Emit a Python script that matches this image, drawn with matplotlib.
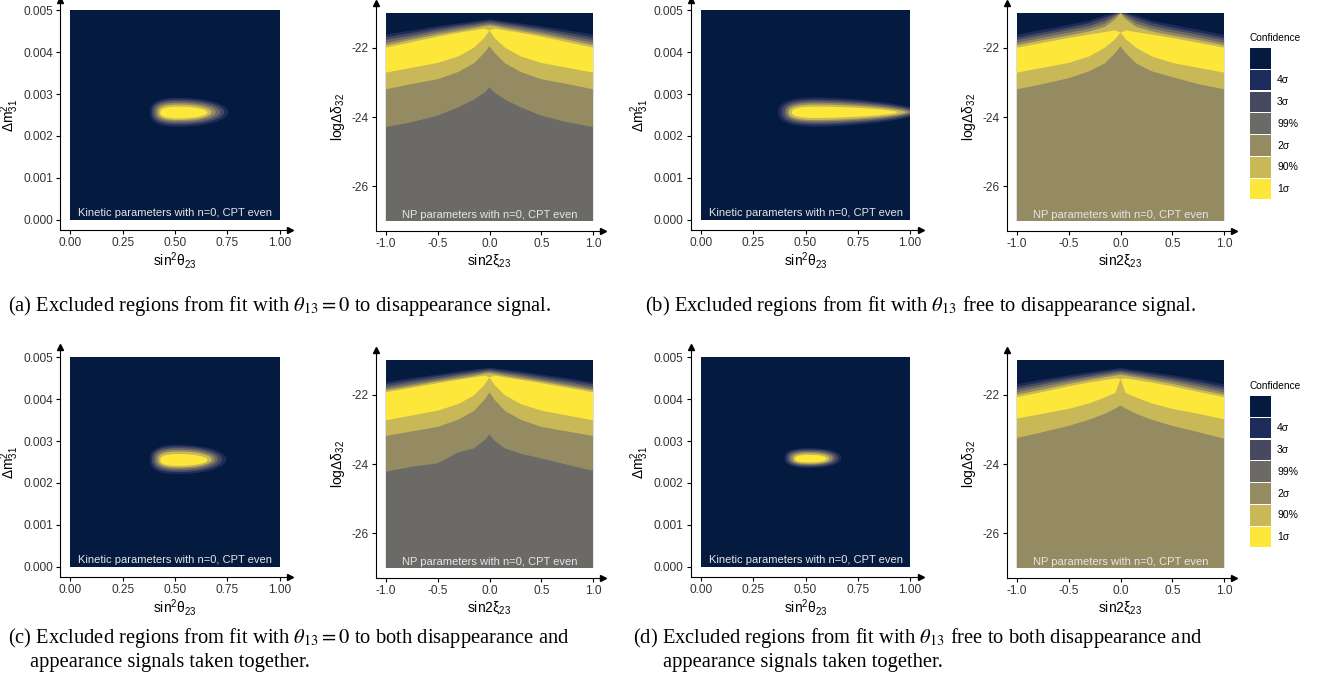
import matplotlib
matplotlib.use("Agg")
import matplotlib.pyplot as plt
import numpy as np
from matplotlib.patches import Polygon, Rectangle

W, H = 1332, 682

plt.rcParams["font.family"] = ["Liberation Sans", "DejaVu Sans"]
plt.rcParams["mathtext.fontset"] = "custom"
plt.rcParams["mathtext.rm"] = "Liberation Sans"
plt.rcParams["mathtext.it"] = "Liberation Sans:italic"
plt.rcParams["mathtext.bf"] = "Liberation Sans:bold"

# confidence levels, outermost (excluded) first
LEVEL_LABELS = ["", "4σ", "3σ", "99%", "2σ", "90%", "1σ"]
LEVEL_COLORS = ["#041a3e", "#1d2c5b", "#46495f", "#6b6a66", "#958b62", "#c9b857", "#fde73a"]

# kinetic panels: per level 4σ..1σ -> (x_left, x_mid, x_right, y_low, y_high)
KIN_A = [(0.38, 0.52, 0.755, 0.00222, 0.00291),
         (0.39, 0.52, 0.735, 0.00227, 0.00287),
         (0.40, 0.52, 0.715, 0.00231, 0.00283),
         (0.41, 0.52, 0.695, 0.00235, 0.00279),
         (0.42, 0.52, 0.675, 0.00238, 0.00275),
         (0.43, 0.52, 0.655, 0.00242, 0.00270)]
KIN_B = [(0.37, 0.56, 1.06, 0.00222, 0.00292),
         (0.385, 0.56, 1.04, 0.00227, 0.00287),
         (0.40, 0.56, 1.02, 0.00231, 0.00283),
         (0.41, 0.56, 1.00, 0.00235, 0.00279),
         (0.42, 0.56, 0.98, 0.00238, 0.00275),
         (0.435, 0.56, 0.94, 0.00243, 0.00270)]
KIN_C = [(0.38, 0.52, 0.745, 0.00221, 0.00291),
         (0.39, 0.52, 0.725, 0.00226, 0.00287),
         (0.40, 0.52, 0.705, 0.00230, 0.00283),
         (0.41, 0.52, 0.69, 0.00234, 0.00279),
         (0.42, 0.52, 0.675, 0.00237, 0.00275),
         (0.43, 0.52, 0.655, 0.00241, 0.00269)]
KIN_D = [(0.40, 0.52, 0.67, 0.00236, 0.00283),
         (0.41, 0.52, 0.655, 0.00239, 0.00280),
         (0.42, 0.52, 0.64, 0.00242, 0.00277),
         (0.43, 0.52, 0.63, 0.00244, 0.00274),
         (0.44, 0.52, 0.615, 0.00246, 0.00271),
         (0.45, 0.52, 0.60, 0.00249, 0.00267)]

# NP panels: boundaries on a common sin2xi grid
X_NP = [-1, -0.75, -0.5, -0.3, -0.15, -0.05, 0, 0.05, 0.15, 0.3, 0.5, 0.75, 1]
NP_BOTTOM = -27

# upper edges of 4σ, 3σ, 99%, 2σ, 90%, 1σ regions
A_UPPER = [
    [-21.62, -21.50, -21.38, -21.30, -21.24, -21.20, -21.18, -21.20, -21.24, -21.30, -21.38, -21.50, -21.62],
    [-21.70, -21.57, -21.44, -21.35, -21.29, -21.24, -21.22, -21.24, -21.29, -21.35, -21.44, -21.57, -21.70],
    [-21.78, -21.64, -21.50, -21.40, -21.34, -21.29, -21.27, -21.29, -21.34, -21.40, -21.50, -21.64, -21.78],
    [-21.86, -21.71, -21.56, -21.46, -21.39, -21.34, -21.32, -21.34, -21.39, -21.46, -21.56, -21.71, -21.86],
    [-21.93, -21.77, -21.62, -21.52, -21.44, -21.38, -21.36, -21.38, -21.44, -21.52, -21.62, -21.77, -21.93],
    [-22.00, -21.84, -21.68, -21.57, -21.50, -21.45, -21.50, -21.45, -21.50, -21.57, -21.68, -21.84, -22.00],
]
# lower edges (None = down to the bottom)
A_LOWER = [
    None, None, None,
    [-24.29, -24.15, -23.96, -23.72, -23.50, -23.30, -23.15, -23.30, -23.50, -23.72, -23.96, -24.15, -24.29],
    [-23.20, -23.05, -22.91, -22.70, -22.45, -22.15, -21.96, -22.15, -22.45, -22.70, -22.91, -23.05, -23.20],
    [-22.72, -22.58, -22.44, -22.25, -22.00, -21.72, -21.50, -21.72, -22.00, -22.25, -22.44, -22.58, -22.72],
]

B_UPPER = [
    [-21.63, -21.48, -21.34, -21.22, -21.06, -21.00, -21.00, -21.00, -21.06, -21.22, -21.34, -21.48, -21.63],
    [-21.71, -21.56, -21.42, -21.29, -21.13, -21.02, -21.00, -21.02, -21.13, -21.29, -21.42, -21.56, -21.71],
    [-21.78, -21.63, -21.49, -21.37, -21.22, -21.05, -21.00, -21.05, -21.22, -21.37, -21.49, -21.63, -21.78],
    [-21.86, -21.71, -21.57, -21.45, -21.31, -21.10, -21.00, -21.10, -21.31, -21.45, -21.57, -21.71, -21.86],
    [-21.93, -21.78, -21.65, -21.53, -21.40, -21.18, -21.00, -21.18, -21.40, -21.53, -21.65, -21.78, -21.93],
    [-22.00, -21.86, -21.72, -21.62, -21.55, -21.50, -21.57, -21.50, -21.55, -21.62, -21.72, -21.86, -22.00],
]
B_LOWER = [
    None, None, None, None,
    [-23.20, -23.05, -22.88, -22.68, -22.45, -22.15, -21.96, -22.15, -22.45, -22.68, -22.85, -23.05, -23.20],
    [-22.72, -22.58, -22.44, -22.25, -22.00, -21.75, -21.57, -21.75, -22.00, -22.25, -22.44, -22.58, -22.72],
]

C_UPPER = [
    [-21.64, -21.52, -21.42, -21.33, -21.27, -21.24, -21.22, -21.24, -21.27, -21.33, -21.42, -21.52, -21.64],
    [-21.70, -21.58, -21.47, -21.38, -21.32, -21.28, -21.26, -21.28, -21.32, -21.38, -21.47, -21.58, -21.70],
    [-21.77, -21.64, -21.53, -21.43, -21.37, -21.32, -21.30, -21.32, -21.37, -21.43, -21.53, -21.64, -21.77],
    [-21.83, -21.70, -21.58, -21.48, -21.41, -21.36, -21.34, -21.36, -21.41, -21.48, -21.58, -21.70, -21.83],
    [-21.88, -21.75, -21.62, -21.53, -21.46, -21.40, -21.38, -21.40, -21.46, -21.53, -21.62, -21.75, -21.88],
    [-21.93, -21.80, -21.67, -21.57, -21.50, -21.45, -21.50, -21.45, -21.50, -21.57, -21.67, -21.80, -21.93],
]
C_LOWER = [
    None, None, None,
    [-24.22, -24.08, -23.98, -23.66, -23.55, -23.32, -23.15, -23.33, -23.55, -23.70, -23.84, -24.02, -24.20],
    [-23.19, -23.06, -22.93, -22.72, -22.47, -22.15, -21.93, -22.15, -22.47, -22.72, -22.93, -23.06, -23.19],
    [-22.74, -22.60, -22.46, -22.27, -22.02, -21.72, -21.50, -21.72, -22.02, -22.27, -22.46, -22.60, -22.74],
]

D_UPPER = [
    [-21.70, -21.56, -21.44, -21.35, -21.29, -21.25, -21.23, -21.25, -21.29, -21.35, -21.44, -21.56, -21.70],
    [-21.78, -21.63, -21.50, -21.41, -21.34, -21.30, -21.28, -21.30, -21.34, -21.41, -21.50, -21.63, -21.78],
    [-21.85, -21.70, -21.56, -21.47, -21.40, -21.35, -21.33, -21.35, -21.40, -21.47, -21.56, -21.70, -21.85],
    [-21.93, -21.77, -21.62, -21.52, -21.45, -21.40, -21.38, -21.40, -21.45, -21.52, -21.62, -21.77, -21.93],
    [-22.00, -21.85, -21.69, -21.58, -21.50, -21.45, -21.43, -21.45, -21.50, -21.58, -21.69, -21.85, -22.00],
    [-22.07, -21.92, -21.76, -21.65, -21.58, -21.53, -21.55, -21.53, -21.58, -21.65, -21.76, -21.92, -22.07],
]
D_LOWER = [
    None, None, None, None,
    [-23.25, -23.08, -22.90, -22.72, -22.55, -22.40, -22.31, -22.40, -22.55, -22.72, -22.90, -23.08, -23.27],
    [-22.69, -22.55, -22.41, -22.25, -22.08, -21.95, -21.55, -21.95, -22.08, -22.25, -22.41, -22.55, -22.71],
]

KIN_XTICKS = [0, 0.25, 0.5, 0.75, 1.0]
KIN_XTICKLABELS = ["0.00", "0.25", "0.50", "0.75", "1.00"]
KIN_YTICKS = [0, 0.001, 0.002, 0.003, 0.004, 0.005]
KIN_YTICKLABELS = ["0.000", "0.001", "0.002", "0.003", "0.004", "0.005"]
NP_XTICKS = [-1, -0.5, 0, 0.5, 1]
NP_XTICKLABELS = ["-1.0", "-0.5", "0.0", "0.5", "1.0"]
NP_YTICKS = [-26, -24, -22]
NP_YTICKLABELS = ["-26", "-24", "-22"]

KIN_TEXT = "Kinetic parameters with n=0, CPT even"
NP_TEXT = "NP parameters with n=0, CPT even"

CAPTIONS = {
    "a": [r"(a) Excluded regions from fit with $\theta_{13} = 0$ to disappearance signal."],
    "b": [r"(b) Excluded regions from fit with $\theta_{13}$ free to disappearance signal."],
    "c": [r"(c) Excluded regions from fit with $\theta_{13} = 0$ to both disappearance and",
          "appearance signals taken together."],
    "d": [r"(d) Excluded regions from fit with $\theta_{13}$ free to both disappearance and",
          "appearance signals taken together."],
}


def box(left, top, right, bottom):
    return [left / W, 1 - bottom / H, (right - left) / W, (bottom - top) / H]


def blob_outline(xl, xm, xr, yl, yh, p_left=2.6, p_right=2.0, n=240):
    t = np.linspace(0, 2 * np.pi, n)
    c, s = np.cos(t), np.sin(t)
    p = np.where(c >= 0, p_right, p_left)
    half_w = np.where(c >= 0, xr - xm, xm - xl)
    x = xm + half_w * np.sign(c) * np.abs(c) ** (2 / p)
    y = (yl + yh) / 2 + (yh - yl) / 2 * np.sign(s) * np.abs(s) ** (2 / p)
    return np.column_stack([x, y])


def style_axes(ax, xr, yr, xticks, xlabels, yticks, ylabels, xlabel, ylabel, ylabelpad):
    dx = (xr[1] - xr[0]) * 0.05
    dy = (yr[1] - yr[0]) * 0.05
    ax.set_xlim(xr[0] - dx, xr[1] + dx)
    ax.set_ylim(yr[0] - dy, yr[1] + dy)
    for side in ("top", "right"):
        ax.spines[side].set_visible(False)
    for side in ("left", "bottom"):
        ax.spines[side].set_linewidth(0.8)
        ax.spines[side].set_color("black")
    ax.set_facecolor("white")
    ax.plot(1, 0, marker=">", ms=4, color="black", transform=ax.transAxes, clip_on=False)
    ax.plot(0, 1, marker="^", ms=4, color="black", transform=ax.transAxes, clip_on=False)
    ax.set_xticks(xticks)
    ax.set_xticklabels(xlabels)
    ax.set_yticks(yticks)
    ax.set_yticklabels(ylabels)
    ax.tick_params(direction="out", length=3, width=0.8, labelsize=8.6, labelcolor="#333333", pad=2)
    ax.set_xlabel(xlabel, fontsize=10, labelpad=1)
    ax.set_ylabel(ylabel, fontsize=10, labelpad=ylabelpad)


def draw_kinetic(ax, blobs, p_right):
    bg = Rectangle((0, 0), 1, 0.005, facecolor=LEVEL_COLORS[0], lw=0)
    ax.add_patch(bg)
    for k, (xl, xm, xr, yl, yh) in enumerate(blobs):
        poly = Polygon(blob_outline(xl, xm, xr, yl, yh, p_right=p_right),
                       facecolor=LEVEL_COLORS[k + 1], lw=0)
        ax.add_patch(poly)
        poly.set_clip_path(bg)
    ax.text(0.5, 0.00004, KIN_TEXT, ha="center", va="bottom", fontsize=8, color="#e6e6e6")
    style_axes(ax, (0, 1), (0, 0.005), KIN_XTICKS, KIN_XTICKLABELS, KIN_YTICKS, KIN_YTICKLABELS,
               r"sin$^2$θ$_{23}$", r"Δm$^2_{31}$", 2)


def draw_np(ax, upper, lower):
    ax.add_patch(Rectangle((-1, NP_BOTTOM), 2, 6, facecolor=LEVEL_COLORS[0], lw=0))
    for k in range(6):
        lo = NP_BOTTOM if lower[k] is None else lower[k]
        ax.fill_between(X_NP, lo, upper[k], facecolor=LEVEL_COLORS[k + 1], lw=0)
    ax.text(0, -26.97, NP_TEXT, ha="center", va="bottom", fontsize=8, color="#e6e6e6")
    style_axes(ax, (-1, 1), (-27, -21), NP_XTICKS, NP_XTICKLABELS, NP_YTICKS, NP_YTICKLABELS,
               r"sin2ξ$_{23}$", r"logΔδ$_{32}$", 3)


def draw_legend(lax, top):
    lax.text(1250, top, "Confidence", fontsize=7.3, va="center", ha="left", color="black")
    for k, (label, color) in enumerate(zip(LEVEL_LABELS, LEVEL_COLORS)):
        y0 = top + 10 + k * 21.8
        lax.add_patch(Rectangle((1250, y0), 21, 20.5, facecolor=color, lw=0))
        lax.text(1277, y0 + 10.5, label, fontsize=7.5, va="center", ha="left", color="black")


fig = plt.figure(figsize=(W / 100, H / 100), dpi=100)

row_shift = 347
panels = [
    ("kin", KIN_A, 2.0, 60, 0),
    ("np", (A_UPPER, A_LOWER), None, 375.6, 2.6),
    ("kin", KIN_B, 1.6, 690.5, 0),
    ("np", (B_UPPER, B_LOWER), None, 1006.6, 2.6),
    ("kin", KIN_C, 2.0, 60, row_shift),
    ("np", (C_UPPER, C_LOWER), None, 375.6, 2.6 + row_shift),
    ("kin", KIN_D, 2.2, 690.5, row_shift),
    ("np", (D_UPPER, D_LOWER), None, 1006.6, 2.6 + row_shift),
]
for kind, data, p_right, left, top in panels:
    if kind == "kin":
        ax = fig.add_axes(box(left, top, left + 230, top + 230))
        draw_kinetic(ax, data, p_right)
    else:
        ax = fig.add_axes(box(left, top, left + 227.8, top + 228.8))
        draw_np(ax, data[0], data[1])

lax = fig.add_axes([0, 0, 1, 1])
lax.set_xlim(0, W)
lax.set_ylim(H, 0)
lax.axis("off")
lax.patch.set_visible(False)

draw_legend(lax, 38)
draw_legend(lax, 38 + 348)

caption_pos = {"a": (8, 306, 30), "b": (645, 306, 667), "c": (8, 638, 30), "d": (633, 638, 663)}
for key, lines in CAPTIONS.items():
    x, y, x2 = caption_pos[key]
    for i, line in enumerate(lines):
        lax.text(x if i == 0 else x2, y + 24 * i, line, fontsize=14.8, va="center", ha="left",
                 family=["Liberation Serif", "DejaVu Serif"], math_fontfamily="stix", color="black")

fig.savefig("out.png", dpi=100)
